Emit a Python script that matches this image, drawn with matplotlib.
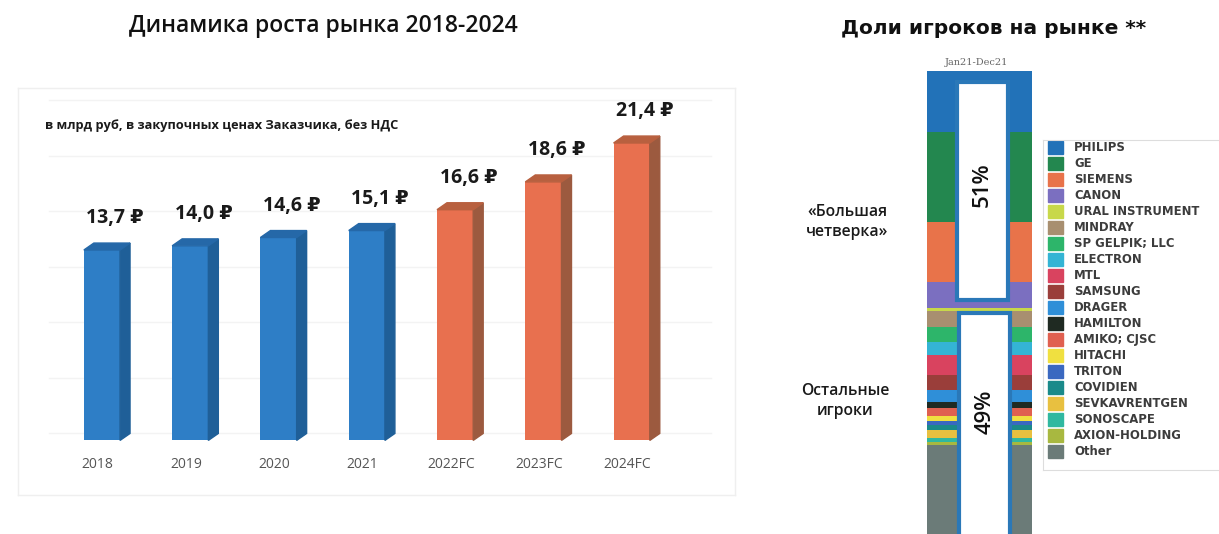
import matplotlib
matplotlib.use('Agg')
import matplotlib.pyplot as plt
from matplotlib.patches import Polygon, Rectangle
import numpy as np

plt.rcParams['font.family'] = ['Open Sans', 'DejaVu Sans']

# ---------------- data ----------------
years = ['2018', '2019', '2020', '2021', '2022FC', '2023FC', '2024FC']
market = [13.7, 14.0, 14.6, 15.1, 16.6, 18.6, 21.4]
value_labels = ['13,7 ₽', '14,0 ₽', '14,6 ₽', '15,1 ₽', '16,6 ₽', '18,6 ₽', '21,4 ₽']
is_forecast = [False, False, False, False, True, True, True]

players = ['PHILIPS', 'GE', 'SIEMENS', 'CANON', 'URAL INSTRUMENT', 'MINDRAY',
           'SP GELPIK; LLC', 'ELECTRON', 'MTL', 'SAMSUNG', 'DRAGER', 'HAMILTON',
           'AMIKO; CJSC', 'HITACHI', 'TRITON', 'COVIDIEN', 'SEVKAVRENTGEN',
           'SONOSCAPE', 'AXION-HOLDING', 'Other']
shares = [13.1, 19.4, 12.9, 5.6, 0.6, 3.4, 3.2, 2.8, 4.3, 3.2, 2.6, 1.3,
          1.9, 0.9, 0.9, 1.1, 1.7, 0.9, 0.6, 19.6]
player_colors = ['#2272b8', '#23874f', '#e8734a', '#7b6fc0', '#c8d84a', '#a88f70',
                 '#2db56a', '#34b4d4', '#d9435f', '#9a3e3a', '#2f8fd8', '#1f2a22',
                 '#e06050', '#f0e040', '#3a68c0', '#1a8a8a', '#e8c040', '#30b8a0',
                 '#a8b840', '#6b7b78']

W, H = 1219, 534
fig = plt.figure(figsize=(W / 100, H / 100), dpi=100)
fig.patch.set_facecolor('white')


def px(x0, y0, x1, y1):
    # pixel box -> figure fraction [left, bottom, width, height]
    return [x0 / W, (H - y1) / H, (x1 - x0) / W, (y1 - y0) / H]


# ---------------- left: market growth ----------------
fig.text(323 / W, 1 - 26 / H, 'Динамика роста рынка 2018-2024', ha='center', va='center',
         fontsize=16.5, fontweight='semibold', color='#111111')

ax = fig.add_axes(px(18, 88, 735, 495))
ax.set_xlim(-0.951, 7.17)
ax.set_ylim(-55 / 14, 355 / 14)
ax.set_xticks([])
ax.set_yticks([])
for s in ax.spines.values():
    s.set_color('#efefef')
    s.set_linewidth(1)
for g in range(0, 25, 4):
    ax.plot([-0.6, 6.9], [g + 0.5, g + 0.5], color='#f3f3f3', lw=1, zorder=0)

bw = 0.41
dx, dy = 0.113, 0.5
x = np.arange(len(years))
front = ['#e8704f' if f else '#2e7ec6' for f in is_forecast]
side = ['#9c5a3f' if f else '#1f5f98' for f in is_forecast]
top = ['#b8603f' if f else '#2568a8' for f in is_forecast]
ax.bar(x, market, width=bw, color=front, zorder=3)
for i, v in enumerate(market):
    x0, x1 = i - bw / 2, i + bw / 2
    ax.add_patch(Polygon([(x1, 0), (x1 + dx, dy), (x1 + dx, v + dy), (x1, v)],
                         closed=True, color=side[i], zorder=3))
    ax.add_patch(Polygon([(x0, v), (x0 + dx, v + dy), (x1 + dx, v + dy), (x1, v)],
                         closed=True, color=top[i], zorder=3))
    ax.text(i + 0.15, v + 2.3, value_labels[i], ha='center', va='center',
            fontsize=14, fontweight='bold', color='#1a1a1a')
    ax.text(i - 0.05, -1.75, years[i], ha='center', va='center', fontsize=10,
            color='#555555')

fig.text(45 / W, 1 - 126 / H, 'в млрд руб, в закупочных ценах Заказчика, без НДС',
         ha='left', va='center', fontsize=9.2, fontweight='bold', color='#1a1a1a')

# ---------------- right: market shares ----------------
fig.text(994 / W, 1 - 29 / H, 'Доли игроков на рынке **', ha='center', va='center',
         fontsize=14.5, fontweight='bold', color='#111111', family='DejaVu Sans')
fig.text(977 / W, 1 - 62 / H, 'Jan21-Dec21', ha='center', va='center', fontsize=7,
         color='#666666', family='DejaVu Serif')

fig.text(847 / W, 1 - 222 / H, '«Большая\nчетверка»', ha='center', va='center',
         fontsize=11.3, fontweight='semibold', color='#1a1a1a', linespacing=1.4)
fig.text(845 / W, 1 - 401 / H, 'Остальные\nигроки', ha='center', va='center',
         fontsize=11.3, fontweight='semibold', color='#1a1a1a', linespacing=1.4)

ax2 = fig.add_axes(px(927, 71, 1032, 536))
ax2.set_xlim(0, 1)
ax2.set_ylim(100, 0)
ax2.axis('off')
cum = np.concatenate([[0], np.cumsum(shares)[:-1]])
ax2.bar(0.5, shares, bottom=cum, width=1, color=player_colors, zorder=2)

big4 = sum(shares[:4])
ax2.add_patch(Rectangle((0.286, 2.4), 0.485, 46.8, facecolor='white',
                        edgecolor='#2a78b8', lw=3, zorder=4))
ax2.add_patch(Rectangle((0.305, 52.0), 0.485, 55, facecolor='white',
                        edgecolor='#2a78b8', lw=3, zorder=4, clip_on=False))
ax2.text(0.53, 24.5, '%d%%' % round(big4), rotation=90, ha='center', va='center',
         fontsize=16, fontweight='semibold', color='#111111', zorder=5)
ax2.text(0.55, 73.3, '%d%%' % round(100 - big4), rotation=90, ha='center',
         va='center', fontsize=16, fontweight='semibold', color='#111111', zorder=5)

# legend
lg = fig.add_axes(px(1043, 140, 1219, 470))
lg.set_xlim(0, 176)
lg.set_ylim(330, 0)
lg.set_xticks([])
lg.set_yticks([])
for k, s in lg.spines.items():
    s.set_color('#dddddd')
lg.spines['right'].set_visible(False)
for i, (name, c) in enumerate(zip(players, player_colors)):
    yc = 7 + i * 16.05
    lg.add_patch(Rectangle((5, yc - 6.5), 15, 13, color=c))
    lg.text(31, yc, name, ha='left', va='center', fontsize=8.4, fontweight='bold',
            color='#3c3c3c', family='DejaVu Sans')

fig.savefig('out.png', dpi=100, facecolor='white')
